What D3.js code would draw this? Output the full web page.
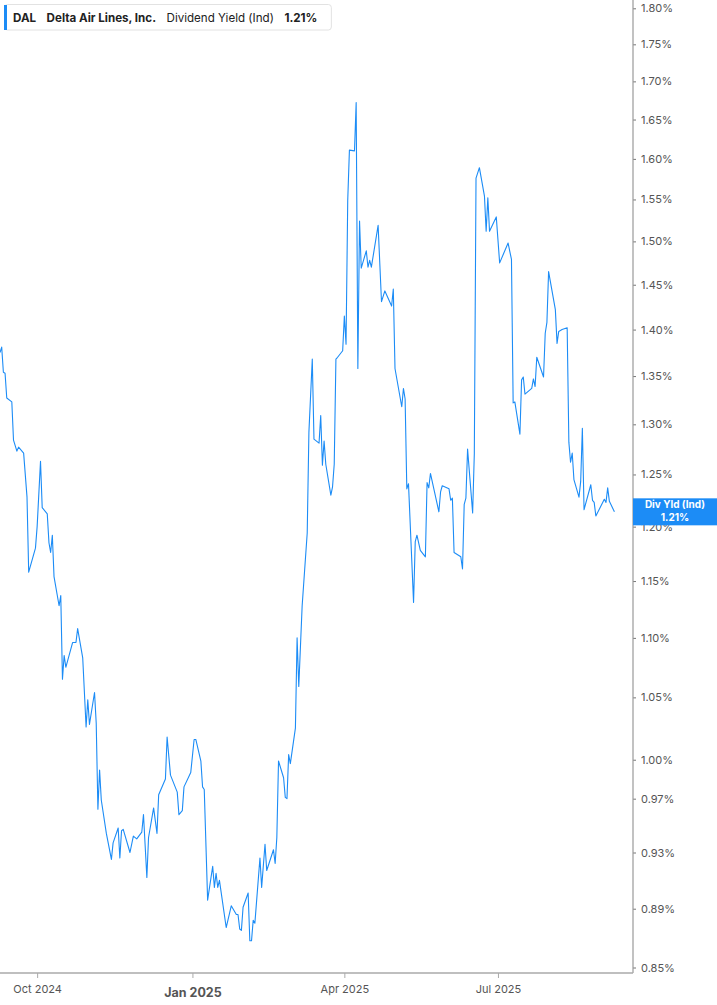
<!DOCTYPE html>
<html>
<head>
<meta charset="utf-8">
<script src="https://cdn.jsdelivr.net/npm/d3@7"></script>
<style>
  body { margin: 0; background: #fff; font-family: Inter, "Noto Sans", sans-serif; }
  svg { display: block; }
</style>
</head>
<body>
<div id="chart"></div>
<script>
// Labels
const ticker = "DAL";
const company = "Delta Air Lines, Inc.";
const metric = "Dividend Yield (Ind)";
const badgeLabel = "Div Yld (Ind)";

// Daily dividend yield (%)
const dates = [
  "2024-09-09","2024-09-10","2024-09-11","2024-09-12","2024-09-13","2024-09-16","2024-09-17","2024-09-19","2024-09-20","2024-09-23","2024-09-25","2024-09-26","2024-09-30",
  "2024-10-01","2024-10-03","2024-10-04","2024-10-07","2024-10-08","2024-10-09","2024-10-10","2024-10-11","2024-10-14","2024-10-15","2024-10-16","2024-10-17","2024-10-18","2024-10-22","2024-10-24","2024-10-25","2024-10-28","2024-10-30","2024-10-31",
  "2024-11-01","2024-11-04","2024-11-05","2024-11-06","2024-11-07","2024-11-08","2024-11-11","2024-11-14","2024-11-15","2024-11-18","2024-11-19","2024-11-20","2024-11-21","2024-11-25","2024-11-27","2024-11-29",
  "2024-12-02","2024-12-03","2024-12-05","2024-12-06","2024-12-09","2024-12-11","2024-12-12","2024-12-16","2024-12-17","2024-12-19","2024-12-23","2024-12-24","2024-12-26","2024-12-27","2024-12-31",
  "2025-01-02","2025-01-03","2025-01-06","2025-01-07","2025-01-08","2025-01-10","2025-01-13","2025-01-14","2025-01-15","2025-01-16","2025-01-17","2025-01-21","2025-01-24","2025-01-27","2025-01-28","2025-01-29","2025-01-30","2025-01-31",
  "2025-02-03","2025-02-04","2025-02-05","2025-02-06","2025-02-07","2025-02-10","2025-02-11","2025-02-13","2025-02-14","2025-02-18","2025-02-19","2025-02-20","2025-02-21","2025-02-24","2025-02-25","2025-02-26","2025-02-27","2025-02-28",
  "2025-03-03","2025-03-04","2025-03-05","2025-03-07","2025-03-10","2025-03-11","2025-03-13","2025-03-14","2025-03-17","2025-03-18","2025-03-19","2025-03-20","2025-03-21","2025-03-24","2025-03-25","2025-03-26","2025-03-27","2025-03-28","2025-03-31",
  "2025-04-01","2025-04-02","2025-04-03","2025-04-04","2025-04-07","2025-04-08","2025-04-09","2025-04-10","2025-04-11","2025-04-14","2025-04-15","2025-04-16","2025-04-17","2025-04-21","2025-04-23","2025-04-25","2025-04-29","2025-04-30",
  "2025-05-01","2025-05-05","2025-05-06","2025-05-07","2025-05-08","2025-05-09","2025-05-12","2025-05-13","2025-05-14","2025-05-16","2025-05-19","2025-05-20","2025-05-21","2025-05-22","2025-05-27","2025-05-28","2025-05-29",
  "2025-06-02","2025-06-03","2025-06-04","2025-06-05","2025-06-09","2025-06-10","2025-06-11","2025-06-12","2025-06-13","2025-06-16","2025-06-17","2025-06-18","2025-06-20","2025-06-23","2025-06-24","2025-06-25","2025-06-26","2025-06-30",
  "2025-07-02","2025-07-07","2025-07-09","2025-07-10","2025-07-11","2025-07-14","2025-07-15","2025-07-16","2025-07-17","2025-07-21","2025-07-22","2025-07-23","2025-07-24","2025-07-28","2025-07-29","2025-07-30","2025-07-31",
  "2025-08-04","2025-08-05","2025-08-06","2025-08-08","2025-08-11","2025-08-12","2025-08-13","2025-08-14","2025-08-15","2025-08-18","2025-08-19","2025-08-20","2025-08-21","2025-08-25","2025-08-26","2025-08-27","2025-08-28",
  "2025-09-02","2025-09-03","2025-09-04","2025-09-05","2025-09-08"
];
const yields = [
  1.375,1.381,1.354,1.353,1.327,1.323,1.284,1.273,1.277,1.271,1.228,1.158,1.180,
  1.200,1.263,1.218,1.212,1.185,1.176,1.192,1.154,1.128,1.137,1.065,1.085,1.075,1.096,1.096,1.108,1.083,1.026,1.048,
  1.028,1.054,1.029,0.962,0.992,0.969,0.944,0.925,0.937,0.948,0.926,0.946,0.947,0.930,0.942,0.940,
  0.945,0.958,0.912,0.941,0.963,0.944,0.973,0.985,1.018,0.988,0.975,0.958,0.961,0.979,0.990,
  1.016,1.016,0.999,0.979,0.977,0.896,0.920,0.905,0.915,0.905,0.910,0.877,0.892,0.886,0.886,0.876,0.875,0.891,
  0.901,0.868,0.868,0.882,0.880,0.926,0.905,0.936,0.917,0.932,0.922,0.941,0.999,0.986,0.971,0.970,1.004,0.997,
  1.025,1.100,1.059,1.128,1.194,1.292,1.368,1.285,1.281,1.309,1.259,1.283,1.260,1.230,1.238,1.260,1.368,1.370,1.377,
  1.415,1.384,1.549,1.611,1.610,1.672,1.358,1.524,1.469,1.489,1.470,1.478,1.470,1.519,1.431,1.443,1.426,1.445,
  1.358,1.318,1.337,1.326,1.236,1.241,1.131,1.186,1.192,1.178,1.172,1.242,1.237,1.251,1.214,1.233,1.239,
  1.236,1.225,1.227,1.176,1.172,1.161,1.221,1.227,1.275,1.213,1.271,1.576,1.589,1.554,1.512,1.552,1.512,1.529,
  1.475,1.498,1.479,1.322,1.323,1.290,1.346,1.349,1.331,1.337,1.347,1.339,1.370,1.349,1.396,1.408,1.465,
  1.422,1.385,1.398,1.400,1.402,1.282,1.262,1.271,1.245,1.228,1.243,1.296,1.216,1.240,1.225,1.223,1.210,
  1.226,1.223,1.237,1.224,1.214
];

// Axis ticks
const yTicks = [0.85, 0.89, 0.93, 0.97, 1.00, 1.05, 1.10, 1.15, 1.20, 1.25, 1.30, 1.35, 1.40, 1.45, 1.50, 1.55, 1.60, 1.65, 1.70, 1.75, 1.80];
const xTicks = ["2024-10-01", "2025-01-01", "2025-04-01", "2025-07-01"];
const xTickLabels = ["Oct 2024", "Jan 2025", "Apr 2025", "Jul 2025"];

const width = 717, height = 1005;
const plotRight = 633, plotBottom = 973;
const blue = "#1c8cf6";

const parse = d3.timeParse("%Y-%m-%d");
const data = dates.map((d, i) => ({date: parse(d), value: yields[i]}));
const last = data[data.length - 1];

const svg = d3.select("#chart")
  .append("svg")
    .attr("width", width)
    .attr("height", height);

// Scales (log scale on y)
const x = d3.scaleTime()
  .domain([parse("2024-09-09"), parse("2025-09-19")])
  .range([0, plotRight]);

const y = d3.scaleLog()
  .domain([0.85, 1.80])
  .range([967.5, 8.3]);

// Y axis on the right
const yAxis = svg.append("g")
  .attr("transform", `translate(${plotRight},0)`)
  .call(d3.axisRight(y)
    .tickValues(yTicks)
    .tickFormat(d => d.toFixed(2) + "%")
    .tickSize(3)
    .tickPadding(5));
yAxis.select(".domain").remove();
yAxis.selectAll(".tick line").attr("stroke", "#777");
yAxis.selectAll("text")
  .style("font-family", "Inter, sans-serif")
  .style("font-size", "11px")
  .attr("fill", "#555");

svg.append("line")
  .attr("x1", plotRight).attr("x2", plotRight)
  .attr("y1", 0).attr("y2", plotBottom)
  .attr("stroke", "#999")
  .attr("stroke-width", 1.2);

// X axis
const xAxis = svg.append("g")
  .attr("transform", `translate(0,${plotBottom})`)
  .call(d3.axisBottom(x)
    .tickValues(xTicks.map(parse))
    .tickFormat((d, i) => xTickLabels[i])
    .tickSize(5)
    .tickPadding(7));
xAxis.select(".domain").remove();
xAxis.selectAll(".tick line").attr("stroke", "#aaa");
xAxis.selectAll("text")
  .style("font-family", "Inter, sans-serif")
  .style("font-size", "11px")
  .attr("fill", "#555");
// year boundary label is bold
xAxis.selectAll(".tick text")
  .filter((d, i) => xTickLabels[i].startsWith("Jan"))
  .style("font-size", "12.5px")
  .style("font-weight", "bold")
  .attr("y", 15);

svg.append("line")
  .attr("x1", 0).attr("x2", plotRight)
  .attr("y1", plotBottom).attr("y2", plotBottom)
  .attr("stroke", "#aaa")
  .attr("stroke-width", 1.5);

// Yield line
const line = d3.line()
  .x(d => x(d.date))
  .y(d => y(d.value));

svg.append("path")
  .datum(data)
  .attr("fill", "none")
  .attr("stroke", blue)
  .attr("stroke-width", 1.1)
  .attr("stroke-linejoin", "round")
  .attr("d", line);

// Current value badge
const by = y(last.value);
svg.append("rect")
  .attr("x", plotRight)
  .attr("y", by - 13.5)
  .attr("width", width - plotRight)
  .attr("height", 27)
  .attr("fill", blue);

svg.append("text")
  .attr("x", (plotRight + width) / 2)
  .attr("y", by - 3.5)
  .attr("text-anchor", "middle")
  .attr("fill", "#fff")
  .style("font-size", "10px")
  .style("font-weight", "bold")
  .text(badgeLabel);

svg.append("text")
  .attr("x", (plotRight + width) / 2)
  .attr("y", by + 9)
  .attr("text-anchor", "middle")
  .attr("fill", "#fff")
  .style("font-size", "10px")
  .style("font-weight", "bold")
  .text(last.value.toFixed(2) + "%");

// Legend box: items laid out one after another
const legend = svg.append("g");
const legendBox = legend.append("rect")
  .attr("x", 4.5).attr("y", 4.5)
  .attr("height", 25.5)
  .attr("rx", 3)
  .attr("fill", "#fff")
  .attr("stroke", "#e2e2e2");
legend.append("rect")
  .attr("x", 4).attr("y", 5)
  .attr("width", 3).attr("height", 25)
  .attr("fill", blue);

const legendItems = [
  {text: ticker, bold: true},
  {text: company, bold: true},
  {text: metric, bold: false},
  {text: last.value.toFixed(2) + "%", bold: true}
];
let lx = 13;
legendItems.forEach(d => {
  const t = legend.append("text")
    .attr("x", lx)
    .attr("y", 21.5)
    .attr("fill", "#222")
    .style("font-size", "11.6px")
    .style("font-weight", d.bold ? "bold" : "normal")
    .text(d.text);
  lx += t.node().getComputedTextLength() + 10.5;
});
legendBox.attr("width", lx - 10.5 + 14 - 4.5);
</script>
</body>
</html>
